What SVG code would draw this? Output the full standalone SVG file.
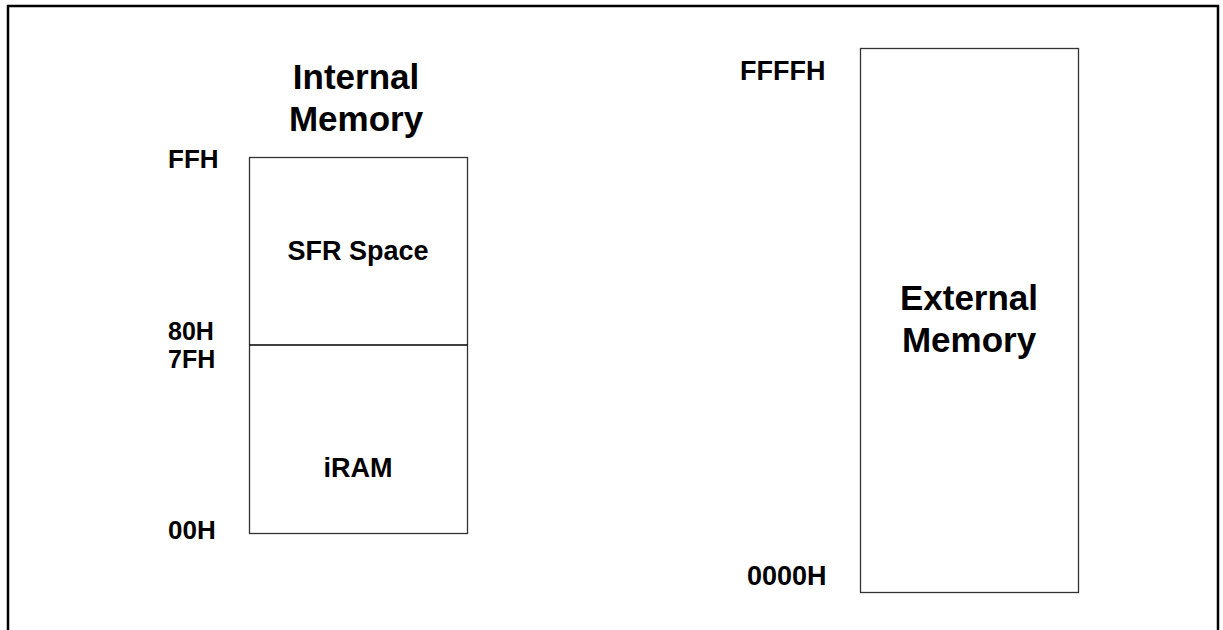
<svg xmlns="http://www.w3.org/2000/svg" width="1223" height="630" viewBox="0 0 1223 630">
<style>
.t{font-family:"Liberation Sans",Arial,sans-serif;font-weight:bold;fill:#000}
.lbl{font-size:27px}
.sm{font-size:26px}
.xs{font-size:25px}
.big{font-size:35px;text-anchor:middle}
.box{fill:#fff;stroke:#333;stroke-width:1.3}
</style>
<rect width="1223" height="630" fill="#fff"/>
<path d="M8,630 V6 H1218 V630" fill="none" stroke="#000" stroke-width="2.5"/>
<g id="internal">
<text class="t big" x="356" y="89">Internal</text>
<text class="t big" x="356" y="131">Memory</text>
<rect class="box" x="249.5" y="157.5" width="218" height="376"/>
<line x1="249.5" y1="345" x2="467.5" y2="345" stroke="#000" stroke-width="1.3"/>
<text class="t sm" x="168" y="168">FFH</text>
<text class="t xs" x="168" y="340">80H</text>
<text class="t xs" x="168" y="368">7FH</text>
<text class="t sm" x="168" y="539">00H</text>
<text class="t lbl" x="358" y="260" text-anchor="middle">SFR Space</text>
<text class="t lbl" x="358" y="477" text-anchor="middle">iRAM</text>
</g>
<g id="external">
<rect class="box" x="860.5" y="48.5" width="218" height="544"/>
<text class="t lbl" x="740" y="80">FFFFH</text>
<text class="t lbl" x="747" y="585">0000H</text>
<text class="t big" x="969" y="310">External</text>
<text class="t big" x="969" y="352">Memory</text>
</g>
</svg>
